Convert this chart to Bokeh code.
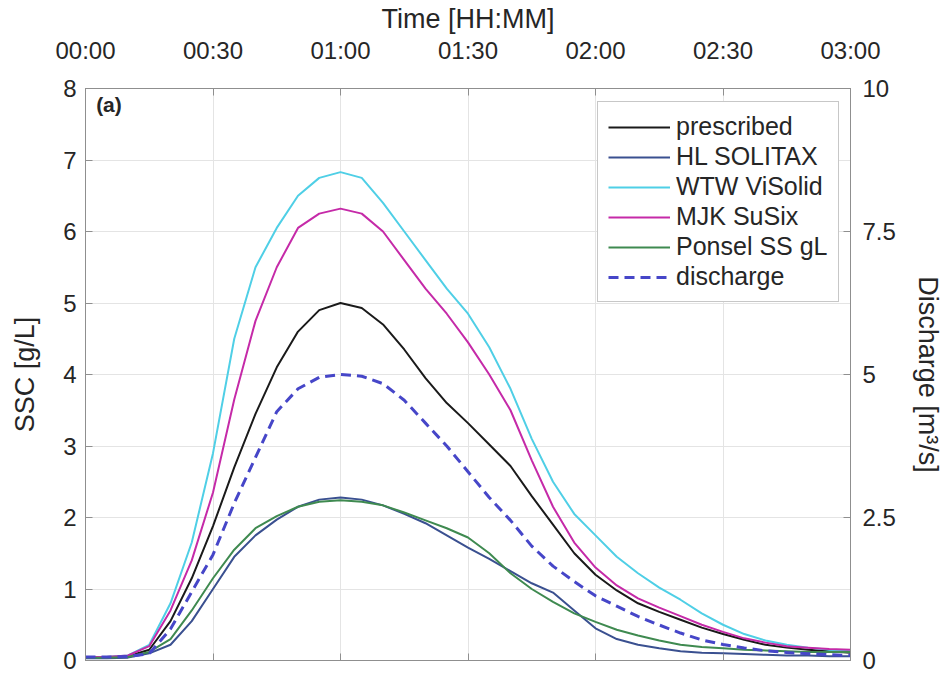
from bokeh.plotting import figure
from bokeh.models import Range1d, LinearAxis, FixedTicker, Legend, LegendItem, Label, NumeralTickFormatter
from bokeh.embed import file_html
from bokeh.resources import INLINE

# time in minutes
times = list(range(0, 181, 5))

prescribed = [0.05, 0.05, 0.06, 0.15, 0.55, 1.15, 1.88, 2.70, 3.45, 4.10, 4.60, 4.90, 5.00,
              4.93, 4.70, 4.35, 3.95, 3.60, 3.32, 3.02, 2.72, 2.30, 1.90, 1.50, 1.20, 0.98,
              0.80, 0.68, 0.57, 0.46, 0.37, 0.29, 0.22, 0.18, 0.15, 0.13, 0.11]
hl_solitax = [0.03, 0.03, 0.04, 0.10, 0.22, 0.55, 1.00, 1.45, 1.75, 1.97, 2.15, 2.25, 2.28,
              2.25, 2.17, 2.05, 1.92, 1.75, 1.58, 1.42, 1.25, 1.08, 0.95, 0.70, 0.45, 0.30,
              0.22, 0.17, 0.13, 0.11, 0.10, 0.09, 0.08, 0.07, 0.07, 0.06, 0.06]
wtw_visolid = [0.05, 0.05, 0.07, 0.22, 0.80, 1.65, 2.90, 4.50, 5.50, 6.05, 6.50, 6.75, 6.83,
               6.75, 6.40, 6.00, 5.60, 5.20, 4.85, 4.38, 3.80, 3.10, 2.50, 2.05, 1.75, 1.45,
               1.22, 1.02, 0.85, 0.66, 0.50, 0.37, 0.28, 0.22, 0.18, 0.15, 0.13]
mjk_susix = [0.05, 0.05, 0.07, 0.20, 0.70, 1.40, 2.35, 3.65, 4.75, 5.50, 6.05, 6.25, 6.32,
             6.25, 6.00, 5.60, 5.20, 4.85, 4.45, 4.00, 3.50, 2.80, 2.15, 1.65, 1.30, 1.05,
             0.87, 0.74, 0.62, 0.50, 0.40, 0.31, 0.25, 0.20, 0.18, 0.16, 0.15]
ponsel = [0.04, 0.04, 0.05, 0.12, 0.30, 0.70, 1.15, 1.55, 1.85, 2.02, 2.15, 2.22, 2.24,
          2.22, 2.17, 2.07, 1.96, 1.85, 1.72, 1.50, 1.22, 1.00, 0.82, 0.66, 0.54, 0.43,
          0.35, 0.28, 0.22, 0.19, 0.17, 0.15, 0.14, 0.13, 0.12, 0.12, 0.12]
discharge = [0.06, 0.06, 0.07, 0.12, 0.55, 1.20, 1.85, 2.75, 3.55, 4.35, 4.75, 4.95, 5.00,
             4.97, 4.84, 4.55, 4.15, 3.75, 3.30, 2.85, 2.45, 2.00, 1.65, 1.38, 1.13, 0.95,
             0.77, 0.62, 0.48, 0.36, 0.28, 0.22, 0.17, 0.14, 0.12, 0.10, 0.09]

series_names = ["prescribed", "HL SOLITAX", "WTW ViSolid", "MJK SuSix", "Ponsel SS gL", "discharge"]
tick_minutes = [0, 30, 60, 90, 120, 150, 180]
tick_labels = ["00:00", "00:30", "01:00", "01:30", "02:00", "02:30", "03:00"]
ssc_ticks = [0, 1, 2, 3, 4, 5, 6, 7, 8]
q_ticks = [0, 2.5, 5, 7.5, 10]

FONT = "Liberation Sans"
AX = "#8f8f8f"
TXT = "#262626"

p = figure(frame_width=765, frame_height=572, x_range=Range1d(0, 180), y_range=Range1d(0, 8),
           x_axis_location="above", output_backend="svg", toolbar_location=None,
           min_border_left=85, min_border_right=101, min_border_top=88, min_border_bottom=26)
p.extra_y_ranges = {"q": Range1d(0, 10)}
p.outline_line_color = AX
p.background_fill_color = "white"
p.border_fill_color = "white"

def style_axis(ax):
    ax.axis_line_color = AX
    ax.major_tick_line_color = AX
    ax.major_tick_in = 7
    ax.major_tick_out = 0
    ax.minor_tick_line_color = None
    ax.major_label_text_font = FONT
    ax.major_label_text_font_size = "24px"
    ax.major_label_text_color = TXT
    ax.axis_label_text_font = FONT
    ax.axis_label_text_font_size = "27px"
    ax.axis_label_text_font_style = "normal"
    ax.axis_label_text_color = TXT

xa = p.xaxis[0]
xa.ticker = FixedTicker(ticks=tick_minutes)
xa.major_label_overrides = dict(zip(tick_minutes, tick_labels))
xa.axis_label = "Time [HH:MM]"
style_axis(xa)
xa.major_label_standoff = 25
xa.axis_label_standoff = 0

xb = LinearAxis(ticker=FixedTicker(ticks=tick_minutes))
xb.major_label_overrides = {t: "" for t in tick_minutes}
style_axis(xb)
p.add_layout(xb, "below")

ya = p.yaxis[0]
ya.ticker = FixedTicker(ticks=ssc_ticks)
ya.axis_label = "SSC [g/L]"
style_axis(ya)
ya.major_label_standoff = 9
ya.axis_label_standoff = 20

ra = LinearAxis(y_range_name="q", ticker=FixedTicker(ticks=q_ticks), axis_label="Discharge [m³/s]",
                formatter=NumeralTickFormatter(format="0.[0]"))
style_axis(ra)
ra.major_label_standoff = 12
ra.axis_label_standoff = 14
p.add_layout(ra, "right")

p.xgrid.grid_line_color = "#e4e4e4"
p.ygrid.grid_line_color = "#e4e4e4"
p.xgrid.ticker = FixedTicker(ticks=tick_minutes)
p.ygrid.ticker = FixedTicker(ticks=ssc_ticks)

colors = ["#1a1a1a", "#3a5090", "#4fcfe6", "#c52aa8", "#3f8a50", "#4646c8"]
data = [prescribed, hl_solitax, wtw_visolid, mjk_susix, ponsel]
renderers = []
for name, vals, col in zip(series_names[:5], data, colors[:5]):
    r = p.line(times, vals, line_color=col, line_width=2)
    renderers.append(r)
rq = p.line(times, discharge, y_range_name="q", line_color=colors[5], line_width=3, line_dash="10 6")
renderers.append(rq)

legend = Legend(items=[LegendItem(label=n, renderers=[r]) for n, r in zip(series_names, renderers)],
                location=(512, 358))
legend.border_line_color = AX
legend.background_fill_color = "white"
legend.background_fill_alpha = 1
legend.label_text_font = FONT
legend.label_text_font_size = "25px"
legend.label_text_color = TXT
legend.glyph_width = 62
legend.glyph_height = 28
legend.label_height = 28
legend.spacing = 1
legend.padding = 10
legend.margin = 0
legend.label_standoff = 6
p.add_layout(legend)

p.add_layout(Label(x=2.5, y=7.78, text="(a)", text_font=FONT, text_font_style="bold",
                   text_font_size="21px", text_color=TXT, text_baseline="middle"))

open("out.html", "w").write(file_html(p, INLINE))
